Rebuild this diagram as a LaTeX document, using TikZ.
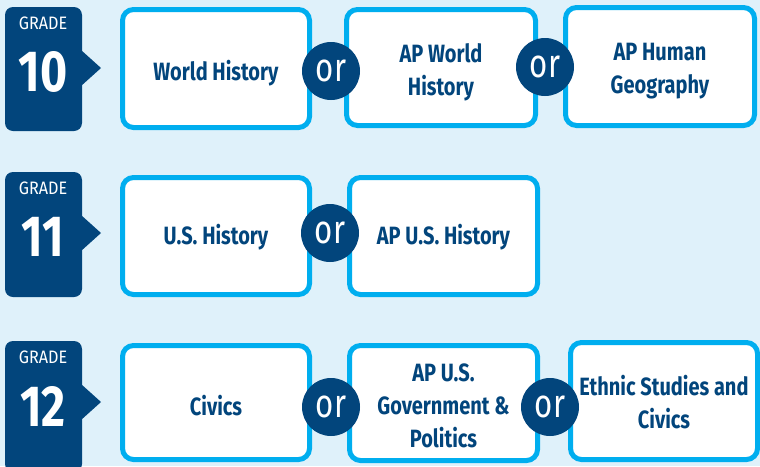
\documentclass[tikz,border=0pt]{standalone}
\usepackage{fontspec}
\setmainfont{Fira Sans}[FakeStretch=0.8]
\newfontfamily\condreg{Fira Sans}[FakeStretch=0.78]
\newfontfamily\gradereg{Fira Sans}[FakeStretch=0.9]
\definecolor{bgc}{HTML}{DFF1FA}
\definecolor{navy}{HTML}{02457C}
\definecolor{cyanb}{HTML}{00AEEF}
\begin{document}
\begin{tikzpicture}[x=1pt,y=-1pt,
  course/.style={draw=cyanb, line width=5pt, fill=white, rounded corners=11pt, inner sep=0pt},
  ctext/.style={text=navy, font=\bfseries\fontsize{25}{33}\selectfont, align=center, inner sep=0pt},
  orc/.style={circle, fill=navy, minimum size=58pt, inner sep=0pt, text=white,
    font=\condreg\fontsize{40}{40}\selectfont},
  badge/.style={fill=navy, rounded corners=8pt},
  gradelbl/.style={text=white, font=\gradereg\fontsize{18}{18}\selectfont, inner sep=0pt},
  gradenum/.style={text=white, font=\bfseries\fontsize{58}{58}\selectfont, inner sep=0pt}]
\useasboundingbox (0,0) rectangle (760,466);
\clip (0,0) rectangle (760,466);
\fill[bgc] (0,0) rectangle (760,466);

% badges
\foreach \t/\b/\a/\g/\n in {7/131/68/10/ten, 172/297/233/11/eleven, 341/472/402/12/twelve}{
  \fill[badge] (5,\t) rectangle (82,\b);
  \fill[navy] (81,\a-18) -- (101,\a) -- (81,\a+18) -- cycle;
  \node[gradelbl] (g\n) at (43,{\t+16}) {GRADE};
  \node[gradenum] (n\n) at (43,{\a+4}) {\g};
}

% row 1
\node[course, minimum width=187pt, minimum height=118pt] (wh) at (216,68.5) {};
\node[course, minimum width=189pt, minimum height=116pt] (apwh) at (441,67.5) {};
\node[course, minimum width=189pt, minimum height=118pt] (aphg) at (660,66.5) {};
\node[ctext] (twh) at ([yshift=-5pt]wh.center) {World History};
\node[ctext] (tapwh) at ([yshift=-5pt]apwh.center) {AP World\\History};
\node[ctext] (taphg) at ([yshift=-5pt]aphg.center) {AP Human\\Geography};
\node[orc] (or1) at (331,71) {or};
\node[orc] (or2) at (545,67) {or};

% row 2
\node[course, minimum width=187pt, minimum height=117pt] (ush) at (216,236) {};
\node[course, minimum width=188pt, minimum height=117pt] (apush) at (443.5,236) {};
\node[ctext] (tush) at ([yshift=-1pt]ush.center) {U.S. History};
\node[ctext] (tapush) at ([yshift=-1pt]apush.center) {AP U.S. History};
\node[orc] (or3) at (330,233) {or};

% row 3
\node[course, minimum width=187pt, minimum height=114pt] (civ) at (216,402.5) {};
\node[course, minimum width=188pt, minimum height=115pt] (apgov) at (443.5,403) {};
\node[course, minimum width=187pt, minimum height=117pt] (eth) at (664,401) {};
\node[ctext] (tciv) at ([yshift=-3pt]civ.center) {Civics};
\node[ctext] (tapgov) at ([yshift=-3pt]apgov.center) {AP U.S.\\Government \&\\Politics};
\node[ctext] (teth) at ([yshift=-1pt]eth.center) {Ethnic Studies and\\Civics};
\node[orc] (or4) at (331,407) {or};
\node[orc] (or5) at (550,407) {or};
\end{tikzpicture}
\end{document}
